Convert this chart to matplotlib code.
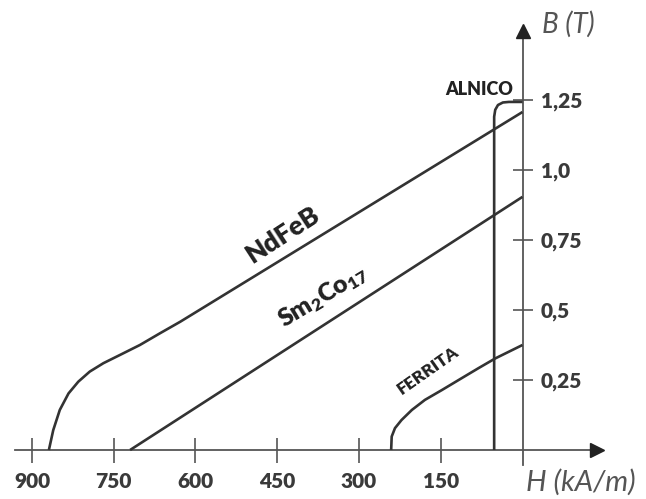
import matplotlib
matplotlib.use("Agg")
import matplotlib.pyplot as plt

plt.rcParams['font.family'] = ['Lato', 'DejaVu Sans']
plt.rcParams['mathtext.fontset'] = 'custom'
plt.rcParams['mathtext.rm'] = 'Lato:heavy'
plt.rcParams['mathtext.default'] = 'rm'

# Demagnetization curves, H in kA/m (plotted to the left), B in T
ndfeb_h = [0, 628, 665, 702, 739, 769, 794, 815, 833, 849, 861, 869]
ndfeb_b = [1.207, 0.458, 0.417, 0.375, 0.339, 0.310, 0.280, 0.244, 0.202, 0.143, 0.071, 0.0]

smco_h = [0, 720]
smco_b = [0.904, 0.0]

ferrita_h = [0, 50, 81, 112, 148, 179, 203, 222, 234, 240, 241]
ferrita_b = [0.375, 0.327, 0.292, 0.256, 0.214, 0.179, 0.143, 0.107, 0.078, 0.048, 0.0]

alnico_h = [0, 25, 36, 45, 50, 52, 52]
alnico_b = [1.243, 1.243, 1.241, 1.232, 1.215, 1.19, 0.0]

x_ticks = [150, 300, 450, 600, 750, 900]
y_ticks = [0.25, 0.5, 0.75, 1.0, 1.25]
y_tick_labels = ["0,25", "0,5", "0,75", "1,0", "1,25"]

line_col = "#333333"
axis_col = "#555555"
text_col = "#3a3a3a"

fig = plt.figure(figsize=(6.46, 4.99), dpi=100)
ax = fig.add_axes([0, 0, 1, 1])
ax.set_xlim(958.7, -226.6)
ax.set_ylim(-0.175, 1.607)

for h, b in [(ndfeb_h, ndfeb_b), (smco_h, smco_b), (ferrita_h, ferrita_b), (alnico_h, alnico_b)]:
    ax.plot(h, b, color=line_col, lw=1.9, solid_capstyle='butt', zorder=3)

# axes through the origin
for s in ['left', 'top']:
    ax.spines[s].set_visible(False)
ax.spines['bottom'].set_position(('data', 0))
ax.spines['right'].set_position(('data', 0))
ax.spines['bottom'].set_bounds(931, -140)
ax.spines['right'].set_bounds(-0.054, 1.5)
for s in ['bottom', 'right']:
    ax.spines[s].set_color(axis_col)
    ax.spines[s].set_linewidth(1.3)

ax.plot([-137], [0], marker='>', ms=10, color='#222222', clip_on=False, zorder=4)
ax.plot([0], [1.497], marker='^', ms=10, color='#222222', clip_on=False, zorder=4)

ax.xaxis.set_ticks_position('bottom')
ax.yaxis.set_ticks_position('right')
ax.tick_params(axis='x', direction='inout', length=18, width=1.2, color=axis_col,
               pad=7, labelcolor=text_col)
ax.tick_params(axis='y', direction='inout', length=14, width=1.2, color=axis_col,
               pad=6, labelcolor=text_col)
ax.set_xticks(x_ticks)
ax.set_xticklabels([str(t) for t in x_ticks], fontsize=15, fontweight='heavy')
ax.set_yticks(y_ticks)
ax.set_yticklabels(y_tick_labels, fontsize=15, fontweight='heavy')

# labels
ax.text(440, 0.768, "NdFeB", rotation=33, ha='center', va='center',
        fontsize=19, fontweight='heavy', color='#222222')
ax.text(366, 0.548, r"Sm$_2$Co$_{17}$", rotation=31, ha='center', va='center',
        fontsize=18, fontweight='heavy', color='#222222')
ax.text(173, 0.285, "FERRITA", rotation=35, ha='center', va='center',
        fontsize=12.5, fontweight='heavy', color='#222222')
ax.text(80, 1.289, "ALNICO", ha='center', va='center',
        fontsize=13, fontweight='heavy', color='#222222')
ax.text(-84, 1.52, "B (T)", ha='center', va='center', fontsize=20,
        style='italic', color='#555555')
ax.text(-6, -0.114, "H (kA/m)", ha='left', va='center', fontsize=21,
        style='italic', color='#555555')

fig.savefig("out.png", dpi=100, facecolor='white')
